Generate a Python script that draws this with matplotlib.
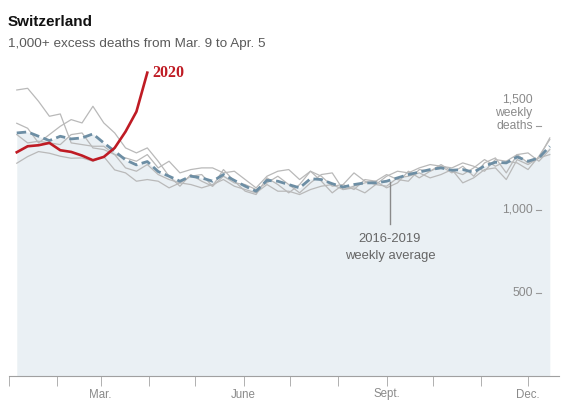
import matplotlib
matplotlib.use("Agg")
import matplotlib.pyplot as plt

# ---- data ----
week_day_start = 5          # day-of-year of first weekly point
week_step = 7
avg_2016_2019 = [1460, 1466, 1440, 1414, 1440, 1424, 1430, 1454, 1400, 1350,
                 1298, 1268, 1288, 1228, 1200, 1170, 1200, 1190, 1170, 1210,
                 1175, 1140, 1110, 1175, 1170, 1150, 1130, 1185, 1180, 1155,
                 1135, 1150, 1160, 1160, 1170, 1190, 1210, 1225, 1240, 1250,
                 1236, 1240, 1224, 1262, 1284, 1280, 1316, 1290, 1310, 1380]
year_a = [1718, 1728, 1650, 1560, 1574, 1400, 1390, 1380, 1380, 1330,
          1310, 1290, 1330, 1250, 1290, 1220, 1240, 1250, 1250, 1220,
          1230, 1180, 1130, 1200, 1230, 1240, 1180, 1230, 1200, 1140,
          1150, 1220, 1170, 1150, 1200, 1230, 1220, 1250, 1270, 1260,
          1250, 1280, 1260, 1230, 1300, 1290, 1280, 1240, 1320, 1420]
year_b = [1518, 1488, 1400, 1450, 1500, 1540, 1520, 1620, 1520, 1460,
          1370, 1340, 1370, 1290, 1200, 1140, 1210, 1170, 1140, 1240,
          1170, 1110, 1090, 1190, 1150, 1100, 1150, 1230, 1170, 1100,
          1150, 1120, 1180, 1170, 1130, 1160, 1230, 1190, 1230, 1270,
          1230, 1210, 1250, 1300, 1260, 1290, 1330, 1280, 1310, 1430]
year_c = [1450, 1400, 1410, 1400, 1390, 1450, 1460, 1370, 1360, 1330,
          1250, 1230, 1270, 1210, 1180, 1160, 1200, 1210, 1140, 1200,
          1160, 1150, 1120, 1160, 1200, 1150, 1100, 1160, 1210, 1220,
          1120, 1140, 1160, 1170, 1210, 1180, 1170, 1240, 1230, 1260,
          1220, 1260, 1200, 1280, 1310, 1220, 1330, 1340, 1290, 1360]
year_d = [1278, 1318, 1348, 1338, 1320, 1308, 1310, 1290, 1318, 1238,
          1220, 1170, 1180, 1170, 1130, 1160, 1150, 1130, 1150, 1180,
          1140, 1120, 1100, 1150, 1110, 1110, 1090, 1120, 1140, 1150,
          1120, 1130, 1100, 1150, 1140, 1190, 1200, 1220, 1190, 1210,
          1240, 1160, 1190, 1240, 1250, 1180, 1300, 1270, 1310, 1330]
deaths_2020 = [1344, 1380, 1386, 1400, 1356, 1346, 1324, 1296, 1316, 1370,
               1468, 1588, 1822]

month_days = [0, 31, 59, 90, 120, 151, 181, 212, 243, 273, 304, 334]
month_labels = ["", "", "Mar.", "", "", "June", "", "", "Sept.", "", "", "Dec."]
ytick_vals = [500, 1000, 1500]

days = [week_day_start + week_step * i for i in range(len(avg_2016_2019))]
days_2020 = days[:len(deaths_2020)]

W, H = 561, 408
fig = plt.figure(figsize=(W / 100, H / 100), dpi=100)
plt.rcParams['font.family'] = ['Liberation Sans', 'DejaVu Sans']

# axes spanning pixel x 9..559, y 68..376
left, right, top, bottom = 9, 559, 68, 376
ax = fig.add_axes([left / W, 1 - bottom / H, (right - left) / W, (bottom - top) / H])
xmax = (right - left) / 1.554
ax.set_xlim(0, xmax)
ax.set_ylim(0, 1850)

ax.fill_between(days, 0, avg_2016_2019, color="#eaf0f4", lw=0, zorder=1)
for series in (year_a, year_b, year_c, year_d):
    ax.plot(days, series, color="#b9b9b9", lw=0.9, zorder=2)
ax.plot(days, avg_2016_2019, color="#6d8ea4", lw=2.0, ls=(0, (3.4, 1.6)), zorder=3)
ax.plot(days_2020, deaths_2020, color="#bf1b24", lw=1.9, zorder=4, solid_joinstyle="round")

# axes styling
for s in ("top", "right", "left"):
    ax.spines[s].set_visible(False)
ax.spines["bottom"].set_color("#a0a0a0")
ax.spines["bottom"].set_linewidth(0.8)
ax.set_yticks([])
ax.set_xticks(month_days)
ax.set_xticklabels(month_labels, color="#8a8a8a", fontsize=8.3)
ax.tick_params(axis="x", length=7, width=0.7, color="#b0b0b0", pad=2)

# y labels on the right inside
lab_x = 342.5
px = 1850 / (bottom - top)   # value per pixel
for v in ytick_vals:
    ax.plot([lab_x - 3.5, lab_x], [v, v], color="#9a9a9a", lw=0.8, zorder=5, clip_on=False)
for v in ytick_vals[:2]:
    ax.text(lab_x - 5.5, v, f"{v:,}", ha="right", va="center", fontsize=8.7, color="#8a8a8a", zorder=5)
ax.text(lab_x - 5.5, 1500, "deaths", ha="right", va="center", fontsize=8.7, color="#8a8a8a", zorder=5)
ax.text(lab_x - 5.5, 1500 + 13.5 * px, "weekly", ha="right", va="center", fontsize=8.7, color="#8a8a8a", zorder=5)
ax.text(lab_x - 5.5, 1500 + 27 * px, "1,500", ha="right", va="center", fontsize=8.7, color="#8a8a8a", zorder=5)

# annotation for average
ann_x = (390 - 9) / 1.554
ax.plot([ann_x, ann_x], [1165, 910], color="#8a8a8a", lw=1.0, zorder=5)
ax.text(ann_x, 822, "2016-2019", ha="center", va="center", fontsize=9.4, color="#666666")
ax.text(ann_x, 718, "weekly average", ha="center", va="center", fontsize=9.4, color="#666666")

# 2020 label
ax.text(days_2020[-1] + 3, deaths_2020[-1], "2020", ha="left", va="center",
        fontsize=11.5, fontweight="bold", color="#bf1b24", family=["Liberation Serif", "DejaVu Serif"])

# titles
fig.text(8 / W, 1 - 22 / H, "Switzerland", ha="left", va="center", fontsize=11,
         fontweight="bold", color="#111111")
fig.text(8 / W, 1 - 44 / H, "1,000+ excess deaths from Mar. 9 to Apr. 5", ha="left",
         va="center", fontsize=9.7, color="#5a5a5a")

fig.savefig("out.png", dpi=100)
